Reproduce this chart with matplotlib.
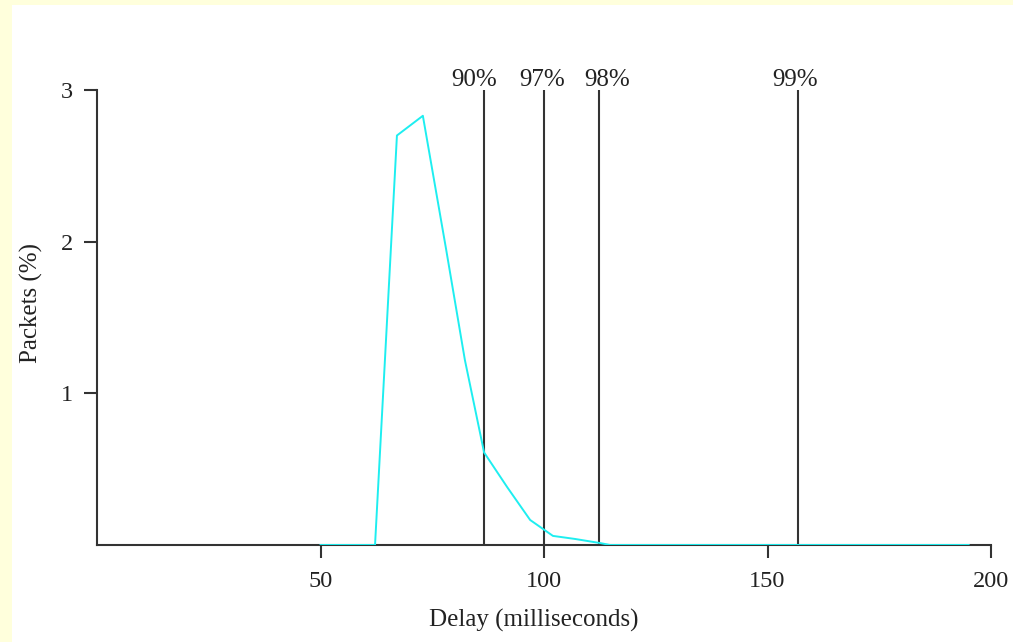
import matplotlib
matplotlib.use("Agg")
import matplotlib.pyplot as plt
from matplotlib.patches import Rectangle

# Data
delay_ms = [50, 62.2, 67.1, 72.9, 78.1, 82.3, 86.6, 91.8, 96.9, 102.0, 106.9, 112.5, 114.8, 195.0]
packets_pct = [0.0, 0.0, 2.70, 2.83, 1.95, 1.22, 0.61, 0.38, 0.165, 0.06, 0.04, 0.013, 0.0, 0.0]

pct_labels = ["90%", "97%", "98%", "99%"]
pct_delays = [86.6, 99.9, 112.2, 156.8]

x_ticks = [50, 100, 150, 200]
y_ticks = [1, 2, 3]

# label nudges (pixels) to avoid overlapping labels
label_dx = [-10, -1.5, 9, -2.5]

plt.rcParams['font.family'] = ['Liberation Serif', 'DejaVu Serif']

fig = plt.figure(figsize=(10.13, 6.42), dpi=100)
fig.patch.set_facecolor("white")
# pale yellow slide border (left and top)
fig.patches.append(Rectangle((0, 0), 12/1013, 1, transform=fig.transFigure,
                             facecolor="#FFFFDC", edgecolor="none", zorder=0))
fig.patches.append(Rectangle((0, 1-5/642), 1, 5/642, transform=fig.transFigure,
                             facecolor="#FFFFDC", edgecolor="none", zorder=0))

ax = fig.add_axes([97/1013, 1-545/642, (991-97)/1013, (545-90)/642])
ax.set_facecolor("none")
ax.set_xlim(0, 200)
ax.set_ylim(0, 3)

ax.plot(delay_ms, packets_pct, color="#1EEEF0", lw=1.4, zorder=3)

for lab, d, dx in zip(pct_labels, pct_delays, label_dx):
    ax.plot([d, d], [0, 3.0], color="#333333", lw=1.5, zorder=2)
    ax.annotate(lab, xy=(d, 3.025), xytext=(dx * 0.72, 0), textcoords="offset points",
                ha="center", va="baseline", fontsize=18, color="#222222",
                annotation_clip=False)

for s in ["top", "right"]:
    ax.spines[s].set_visible(False)
for s in ["left", "bottom"]:
    ax.spines[s].set_color("#333333")
    ax.spines[s].set_linewidth(1.5)

ax.set_xticks(x_ticks)
ax.set_yticks(y_ticks)
ax.tick_params(axis="both", direction="out", length=9.5, width=1.5, color="#333333",
               labelsize=17.5, labelcolor="#222222")
ax.tick_params(axis="x", pad=9)
ax.tick_params(axis="y", pad=8)

ax.set_xlabel("Delay (milliseconds)", fontsize=18, color="#222222")
ax.xaxis.set_label_coords((534-97)/(991-97), -(620-545)/(545-90), transform=ax.transAxes)
ax.xaxis.label.set_va("center")
ax.set_ylabel("Packets (%)", fontsize=18, color="#222222")
ax.yaxis.set_label_coords(-(97-31)/(991-97), (545-303)/(545-90), transform=ax.transAxes)
ax.yaxis.label.set_va("center")

fig.savefig("out.png", dpi=100)
